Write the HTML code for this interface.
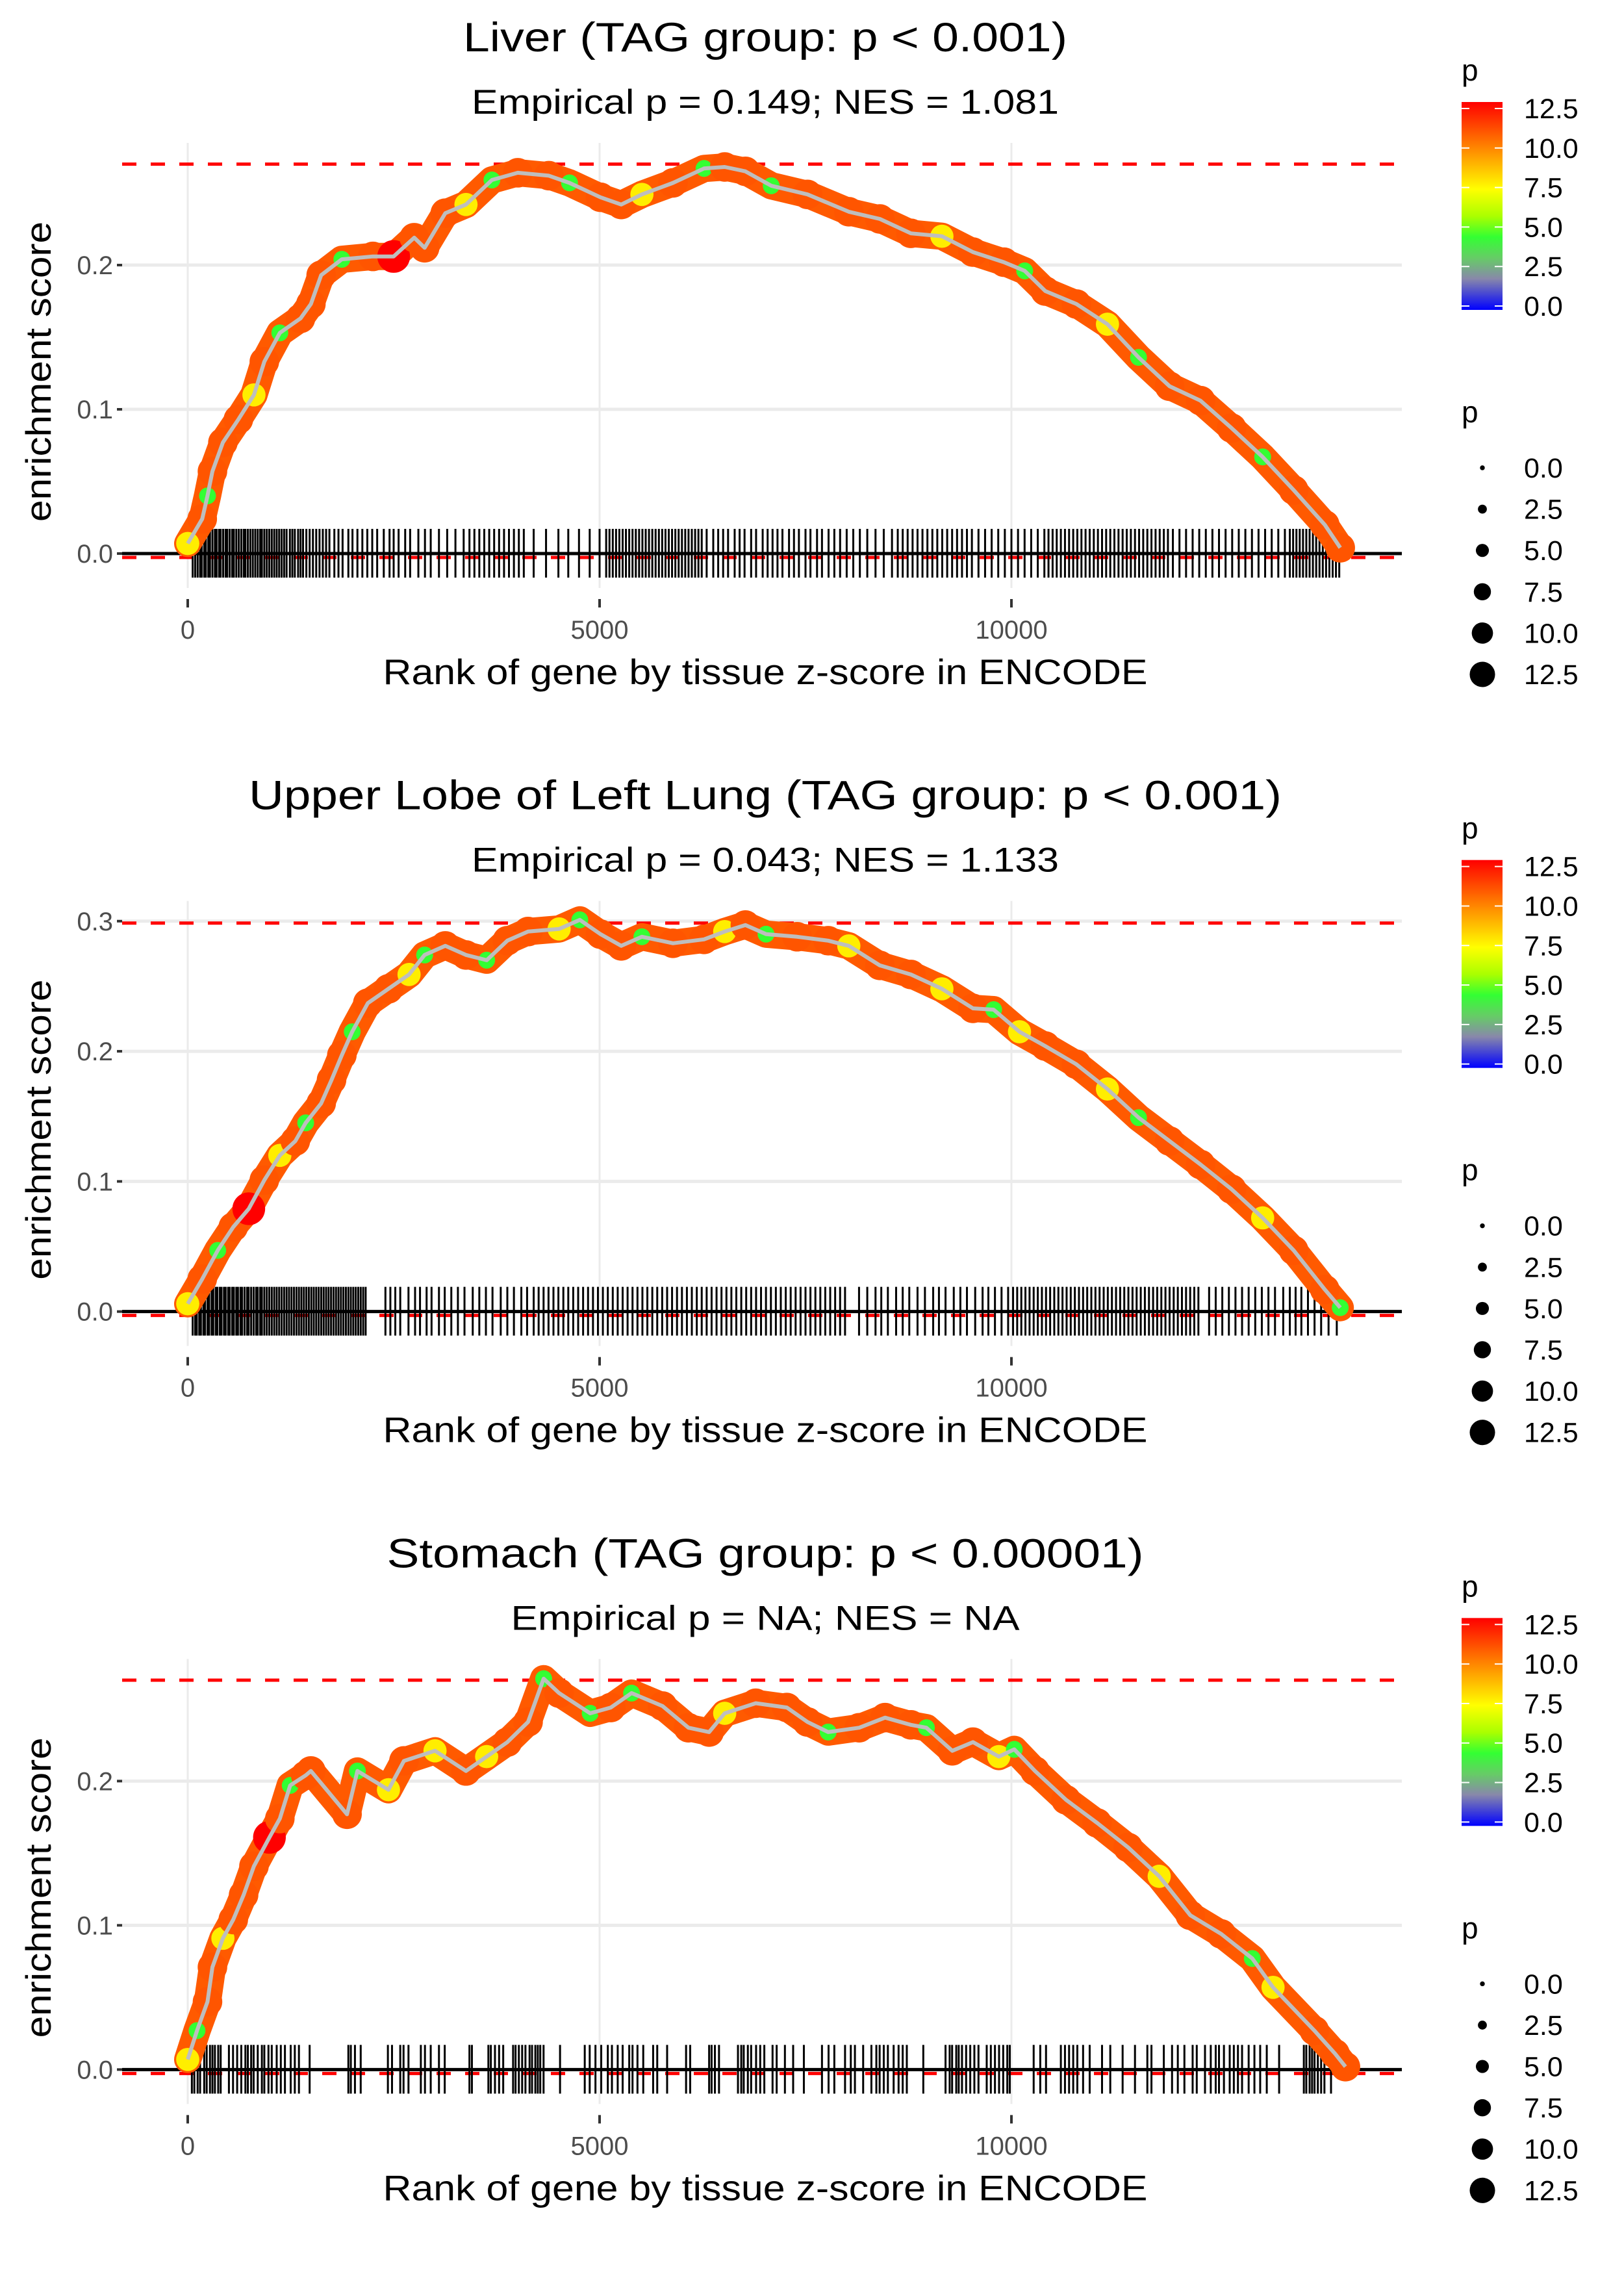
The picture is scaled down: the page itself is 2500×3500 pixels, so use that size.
<!DOCTYPE html>
<html><head><meta charset="utf-8">
<style>
html,body{margin:0;padding:0;background:#fff;}
svg{display:block;font-family:"Liberation Sans",Arial,sans-serif;}
</style></head>
<body>
<svg id="fig" width="2500" height="3500" viewBox="0 0 2500 3500" xmlns="http://www.w3.org/2000/svg">
<defs>
<linearGradient id="pgrad" x1="0" y1="0" x2="0" y2="1">
<stop offset="0" stop-color="#ff0000"/>
<stop offset="0.14" stop-color="#ff5500"/>
<stop offset="0.28" stop-color="#ffaa00"/>
<stop offset="0.42" stop-color="#ffff00"/>
<stop offset="0.55" stop-color="#aaff00"/>
<stop offset="0.65" stop-color="#33ff33"/>
<stop offset="0.75" stop-color="#66cc66"/>
<stop offset="0.85" stop-color="#8888aa"/>
<stop offset="1" stop-color="#0000ff"/>
</linearGradient>
</defs>
</svg>
<script>
// ---- data ----
const titles = ["Liver (TAG group: p < 0.001)","Upper Lobe of Left Lung (TAG group: p < 0.001)","Stomach (TAG group: p < 0.00001)"];
const subtitles = ["Empirical p = 0.149; NES = 1.081","Empirical p = 0.043; NES = 1.133","Empirical p = NA; NES = NA"];
const xTicks = [0,5000,10000];
const xTickLabels = ["0","5000","10000"];
const yTicks1 = [0,0.1,0.2];
const yTicks2 = [0,0.1,0.2,0.3];
const yTicks3 = [0,0.1,0.2];
const maxES = [0.270,0.2985,0.270];
const legendValues = [12.5,10,7.5,5,2.5,0];
const legendLabels = ["12.5","10.0","7.5","5.0","2.5","0.0"];
const sizeValues = [0,2.5,5,7.5,10,12.5];

const rank1 = [0,176,240,300,427,615,804,930,1118,1369,1495,1620,1871,2248,2500,2750,2876,3127,3378,3693,4007,4384,4635,5011,5263,5514,5891,6268,6519,6770,7084,7524,8026,8403,8780,9156,9533,9910,10161,10412,10789,11166,11543,11920,12296,12673,13050,13427,13804,13992];
const es1 = [0.007,0.024,0.040,0.057,0.077,0.093,0.110,0.133,0.153,0.163,0.173,0.193,0.204,0.206,0.206,0.219,0.212,0.236,0.242,0.259,0.264,0.262,0.257,0.247,0.242,0.249,0.257,0.267,0.268,0.265,0.255,0.249,0.237,0.232,0.222,0.220,0.209,0.202,0.196,0.182,0.173,0.159,0.136,0.116,0.106,0.087,0.067,0.044,0.020,0.004];
const p1 = [8,11,5,11,11,11,8,11,5,11,11,11,5,11,12.5,11,11,11,8,5,11,11,5,11,11,8,11,5,11,11,5,11,11,11,11,8,11,11,5,11,11,8,5,11,11,11,5,11,11,11];

const rank2 = [0,176,364,553,741,930,1118,1306,1432,1620,1746,1871,1997,2186,2437,2687,2876,3127,3378,3629,3880,4132,4509,4760,5011,5263,5514,5891,6268,6519,6770,7021,7398,7775,8026,8403,8780,9156,9533,9784,10098,10412,10789,11166,11543,11920,12296,12673,13050,13427,13804,13992];
const es2 = [0.006,0.025,0.047,0.065,0.079,0.101,0.120,0.131,0.145,0.160,0.178,0.197,0.215,0.237,0.248,0.259,0.274,0.281,0.274,0.270,0.285,0.292,0.294,0.301,0.290,0.281,0.288,0.283,0.286,0.292,0.297,0.290,0.288,0.285,0.281,0.266,0.259,0.248,0.233,0.232,0.215,0.204,0.190,0.171,0.149,0.131,0.113,0.094,0.072,0.047,0.017,0.003];
const p2 = [8,11,5,11,12.5,11,8,11,5,11,11,11,5,11,11,8,5,11,11,5,11,11,8,5,11,11,5,11,11,8,11,5,11,11,8,11,11,8,11,5,8,11,11,8,5,11,11,11,8,11,11,5];

const rank3 = [0,113,240,300,427,553,678,804,992,1118,1244,1432,1495,1934,2060,2437,2625,3002,3378,3629,3880,4132,4321,4509,4886,5137,5388,5765,6079,6330,6519,6896,7273,7524,7775,8152,8466,8780,8968,9282,9533,9847,10035,10286,10663,11040,11417,11794,12171,12548,12924,13176,13678,13929,14055];
const es3 = [0.007,0.027,0.047,0.071,0.091,0.104,0.121,0.141,0.161,0.174,0.197,0.204,0.207,0.177,0.207,0.194,0.214,0.221,0.207,0.217,0.227,0.241,0.271,0.261,0.247,0.251,0.261,0.252,0.237,0.234,0.247,0.254,0.251,0.241,0.234,0.237,0.244,0.239,0.237,0.221,0.227,0.217,0.222,0.207,0.187,0.171,0.154,0.134,0.107,0.094,0.077,0.057,0.027,0.011,0.002];
const p3 = [8,5,11,11,8,11,11,11,12.5,11,5,11,11,11,5,8,11,8,11,8,11,11,5,11,5,11,5,11,11,11,8,11,11,11,5,11,11,11,5,11,11,8,5,11,11,11,11,8,11,11,5,8,11,11,11];

const rug1 = [60,90,120,150,170,200,220,250,270,300,330,350,380,400,430,460,480,510,540,560,590,620,650,680,700,730,760,790,820,850,880,900,930,960,990,1020,1050,1080,1110,1140,1170,1200,1240,1270,1300,1340,1370,1400,1440,1480,1520,1560,1600,1640,1680,1720,1780,1830,1880,1950,2000,2060,2120,2180,2240,2300,2380,2450,2500,2560,2640,2700,2800,2880,2950,3050,3150,3250,3350,3420,3480,3540,3600,3660,3720,3780,3840,3900,3960,4020,4080,4200,4350,4500,4620,4750,4880,5000,5080,5120,5160,5200,5240,5280,5320,5360,5400,5440,5480,5520,5560,5600,5640,5680,5720,5760,5800,5840,5880,5920,5960,6000,6040,6080,6120,6160,6200,6240,6300,6380,6440,6500,6560,6640,6700,6760,6840,6900,6980,7040,7100,7160,7220,7300,7360,7420,7500,7560,7640,7700,7780,7850,7920,8000,8080,8160,8250,8350,8450,8550,8620,8680,8740,8800,8860,8920,8980,9040,9100,9160,9220,9280,9340,9400,9460,9520,9600,9680,9760,9840,9920,10000,10080,10160,10240,10320,10400,10450,10500,10550,10600,10650,10700,10750,10800,10850,10900,10950,11000,11050,11100,11150,11200,11250,11300,11350,11400,11450,11500,11550,11600,11650,11700,11750,11800,11850,11900,11960,12040,12120,12200,12280,12360,12440,12520,12600,12680,12760,12840,12920,13000,13080,13160,13240,13320,13380,13420,13460,13500,13540,13580,13620,13660,13700,13740,13780,13820,13860,13900,13940,13980];
const rug2 = [60,90,110,140,160,190,210,240,260,290,310,340,360,390,410,440,460,490,510,540,560,590,610,640,660,690,720,740,770,800,830,850,880,900,930,960,990,1020,1050,1080,1110,1140,1170,1200,1230,1260,1290,1320,1350,1380,1410,1440,1470,1500,1530,1560,1590,1620,1650,1680,1710,1740,1770,1800,1830,1860,1890,1920,1950,1980,2010,2040,2070,2100,2130,2160,2400,2460,2520,2580,2680,2760,2820,2900,2960,3050,3120,3200,3280,3360,3460,3540,3620,3700,3800,3880,3960,4050,4120,4200,4260,4320,4380,4440,4500,4560,4620,4680,4740,4800,4860,4920,4980,5040,5100,5160,5220,5280,5340,5400,5460,5520,5580,5640,5700,5760,5820,5880,5940,6000,6060,6120,6180,6240,6300,6360,6420,6480,6540,6600,6660,6720,6780,6840,6900,6960,7020,7080,7140,7200,7260,7320,7380,7440,7500,7560,7620,7680,7740,7800,7860,7920,7980,8150,8250,8350,8420,8500,8600,8680,8760,8860,8950,9050,9120,9200,9300,9380,9460,9560,9650,9720,9800,9880,9960,10020,10070,10120,10170,10220,10270,10320,10370,10420,10470,10520,10570,10620,10670,10720,10770,10820,10870,10920,10970,11020,11070,11120,11170,11220,11270,11320,11370,11420,11470,11520,11570,11620,11670,11720,11770,11820,11870,11920,11970,12020,12070,12120,12170,12220,12270,12400,12480,12560,12640,12720,12800,12880,12960,13040,13120,13200,13300,13380,13450,13520,13600,13680,13760,13850,13950];
const rug3 = [50,80,120,150,200,230,270,300,330,370,400,500,550,600,650,700,730,770,800,850,900,930,980,1020,1080,1130,1180,1250,1300,1350,1480,1950,1980,2030,2100,2430,2480,2580,2620,2680,2830,2880,2950,3050,3120,3420,3450,3650,3680,3730,3780,3830,3950,3980,4020,4060,4100,4150,4180,4220,4250,4280,4320,4520,4820,4880,4950,5020,5100,5150,5220,5280,5360,5400,5460,5530,5650,5700,5820,6050,6100,6330,6360,6400,6450,6680,6720,6750,6800,6840,6900,6950,7000,7100,7150,7250,7350,7480,7700,7780,7850,7980,8050,8100,8200,8300,8360,8400,8450,8500,8570,8630,8680,8730,8930,9200,9250,9280,9330,9360,9400,9450,9500,9550,9600,9700,9750,9800,9850,9900,9950,9980,10270,10350,10420,10600,10650,10700,10750,10800,10870,10950,11100,11200,11350,11500,11650,11700,11850,11950,12020,12100,12200,12250,12350,12420,12480,12520,12580,12650,12700,12750,12800,12880,12950,13020,13100,13250,13550,13580,13620,13650,13680,13720,13760,13800,13880];

const ranks = [rank1,rank2,rank3];
const esVals = [es1,es2,es3];
const pVals = [p1,p2,p3];
const rugs = [rug1,rug2,rug3];
const yTicksAll = [yTicks1,yTicks2,yTicks3];
const pxPer01 = [222,200.3,222];
const titleLen = [930,1590,1165];
const subLen = [904,904,783];

// ---- drawing ----
const NS = "http://www.w3.org/2000/svg";
const svg = document.getElementById("fig");
function mk(tag, attrs, parent){
  const e = document.createElementNS(NS, tag);
  for (const k in attrs) e.setAttribute(k, attrs[k]);
  (parent||svg).appendChild(e);
  return e;
}
const stops = [[0,[0,0,255]],[2.5,[150,150,170]],[3.5,[102,204,102]],[5,[51,255,51]],[6.3,[170,255,0]],[7.5,[255,255,0]],[10,[255,170,0]],[11,[255,85,0]],[12.5,[255,0,0]]];
function pColor(p){
  if (p <= stops[0][0]) return "rgb("+stops[0][1].join(",")+")";
  for (let i=1;i<stops.length;i++){
    if (p <= stops[i][0]){
      const a=stops[i-1], b=stops[i], t=(p-a[0])/(b[0]-a[0]);
      const c=a[1].map((v,j)=>Math.round(v+(b[1][j]-v)*t));
      return "rgb("+c.join(",")+")";
    }
  }
  return "rgb(255,0,0)";
}
function pRadius(p){ return 4 + p*1.36; }

const X0 = 289, XPER = 634/5000, LEFT = 188, RIGHT = 2158, CX = 1178;
for (let k=0;k<3;k++){
  const off = k*1166.67;
  const zeroY = 852 + off;
  const sy = pxPer01[k]/0.1;
  const xs = r => X0 + r*XPER;
  const ys = v => zeroY - v*sy;
  const g = mk("g", {});
  
  

  const t = mk("text", {x:CX, y:79+off, "text-anchor":"middle", "font-size":63, fill:"#000", textLength:titleLen[k], lengthAdjust:"spacingAndGlyphs"}, g);
  t.textContent = titles[k];
  
  
  const st = mk("text", {x:CX, y:175+off, "text-anchor":"middle", "font-size":53, fill:"#000", textLength:subLen[k], lengthAdjust:"spacingAndGlyphs"}, g);
  st.textContent = subtitles[k];
  
  

  yTicksAll[k].forEach(v=>{
    const l = mk("line",{x1:LEFT,x2:RIGHT,y1:ys(v),y2:ys(v),stroke:"#ebebeb","stroke-width":5},g);
    
    
    const tk = mk("line",{x1:180,x2:188,y1:ys(v),y2:ys(v),stroke:"#333","stroke-width":4},g);
    
    
    const lb = mk("text",{x:174,y:ys(v)+14,"text-anchor":"end","font-size":40,fill:"#4d4d4d"},g);
    lb.textContent = v.toFixed(1);
    
    
  });
  xTicks.forEach((v,i)=>{
    const l = mk("line",{x1:xs(v),x2:xs(v),y1:220+off,y2:905+off,stroke:"#ebebeb","stroke-width":3},g);
    
    
    const tk = mk("line",{x1:xs(v),x2:xs(v),y1:922+off,y2:935+off,stroke:"#333","stroke-width":4},g);
    
    
    const lb = mk("text",{x:xs(v),y:983+off,"text-anchor":"middle","font-size":40,fill:"#4d4d4d"},g);
    lb.textContent = xTickLabels[i];
    
    
  });

  const rt = mk("line",{x1:LEFT,x2:RIGHT,y1:ys(maxES[k]),y2:ys(maxES[k]),stroke:"#ff0000","stroke-width":5,"stroke-dasharray":"22 22"},g);
  
  
  const rb = mk("line",{x1:LEFT,x2:RIGHT,y1:zeroY+6,y2:zeroY+6,stroke:"#ff0000","stroke-width":5,"stroke-dasharray":"22 22"},g);
  
  

  const rugG = mk("g",{},g);
  
  
  rugs[k].forEach(r=>{
    const l = mk("line",{x1:xs(r),x2:xs(r),y1:zeroY-38,y2:zeroY+37,stroke:"#000","stroke-width":3},rugG);
    
    
  });
  const zl = mk("line",{x1:LEFT,x2:RIGHT,y1:zeroY,y2:zeroY,stroke:"#000","stroke-width":5},g);
  
  

  const R = ranks[k], E = esVals[k], P = pVals[k];
  const n = Math.min(R.length, E.length, P.length);
  let d = "";
  for (let i=0;i<n;i++) d += (i?"L":"M")+xs(R[i]).toFixed(1)+","+ys(E[i]).toFixed(1);
  const band = mk("path",{d:d,fill:"none",stroke:"#ff5a00","stroke-width":42,"stroke-linejoin":"round","stroke-linecap":"round"},g);
  
  
  for (let i=0;i<n;i++){
    const c = mk("circle",{cx:xs(R[i]),cy:ys(E[i]),r:pRadius(P[i])*1.2,fill:pColor(P[i])},g);
    
    
  }
  const ln = mk("path",{d:d,fill:"none",stroke:"#bebebe","stroke-width":6,"stroke-linejoin":"round"},g);
  
  

  const xt = mk("text",{x:CX,y:1053+off,"text-anchor":"middle","font-size":55,fill:"#000",textLength:1177,lengthAdjust:"spacingAndGlyphs"},g);
  xt.textContent = "Rank of gene by tissue z-score in ENCODE";
  
  
  const yt = mk("text",{x:0,y:0,"text-anchor":"middle","font-size":55,fill:"#000",textLength:462,lengthAdjust:"spacingAndGlyphs",transform:"translate(78,"+(572+off)+") rotate(-90)"},g);
  yt.textContent = "enrichment score";
  
  

  const lg = mk("g",{},g);
  
  
  const lt = mk("text",{x:2250,y:124+off,"font-size":46,fill:"#000"},lg);
  lt.textContent = "p";
  
  
  const bar = mk("rect",{x:2250,y:157+off,width:63,height:320,fill:"url(#pgrad)"},lg);
  
  
  legendValues.forEach((v,i)=>{
    const yy = 471 + off - (v/12.5)*(471-167);
    const a = mk("line",{x1:2250,x2:2262,y1:yy,y2:yy,stroke:"#fff","stroke-width":2},lg);
    
    
    const b = mk("line",{x1:2301,x2:2313,y1:yy,y2:yy,stroke:"#fff","stroke-width":2},lg);
    
    
    const tl = mk("text",{x:2346,y:yy+15,"font-size":43,fill:"#000"},lg);
    tl.textContent = legendLabels[i];
    
    
  });
  const sg = mk("g",{},g);
  
  
  const s2 = mk("text",{x:2250,y:650+off,"font-size":46,fill:"#000"},sg);
  s2.textContent = "p";
  
  
  sizeValues.forEach((v,i)=>{
    const yy = 720 + off + i*63.6;
    const c = mk("circle",{cx:2282,cy:yy,r:pRadius(v)*0.93,fill:"#000"},sg);
    
    
    const tl = mk("text",{x:2346,y:yy+15,"font-size":43,fill:"#000"},sg);
    tl.textContent = v.toFixed(1);
    
    
  });
}
</script>
</body></html>
